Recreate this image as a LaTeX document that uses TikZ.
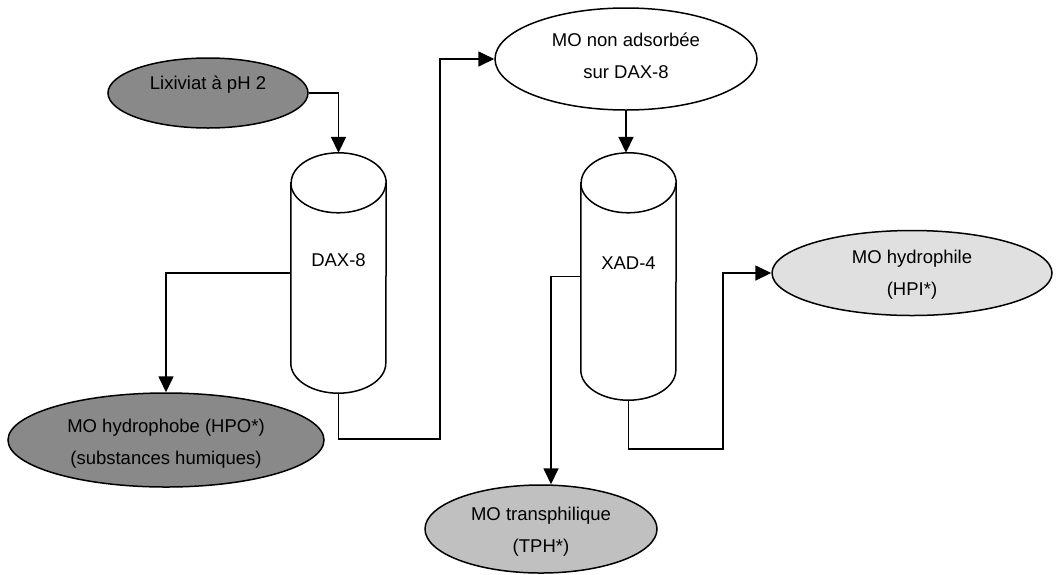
\documentclass[tikz,border=0pt]{standalone}
\usepackage{fontspec}
\setmainfont{Liberation Sans}
\usetikzlibrary{arrows.meta,shapes.geometric,calc}
\definecolor{darkfill}{HTML}{898989}
\definecolor{midfill}{HTML}{C0C0C0}
\definecolor{lightfill}{HTML}{E0E0E0}
\tikzset{
  ell/.style={ellipse,draw=black,line width=1.5pt,inner sep=0pt},
  txt/.style={inner sep=0pt,font=\fontsize{18.5}{32}\selectfont,align=center},
  colbody/.style={rectangle,draw=none,inner sep=0pt,minimum width=95pt},
  cyl/.style={draw=black,line width=1.5pt,fill=white},
  arr/.style={draw=black,line width=1.7pt,-{Triangle[length=16pt,width=15pt]}},
}
\begin{document}
\begin{tikzpicture}[x=1pt,y=-1pt]
\useasboundingbox (0,0) rectangle (1056,574);
% ellipses
\node[ell,fill=darkfill,minimum width=200pt,minimum height=70pt] (lix) at (208,93) {};
\node[ell,fill=white,minimum width=262pt,minimum height=102pt] (mo) at (626,59) {};
\node[ell,fill=darkfill,minimum width=316pt,minimum height=94pt] (hpo) at (166,440) {};
\node[ell,fill=midfill,minimum width=232pt,minimum height=88pt] (tph) at (541,529) {};
\node[ell,fill=lightfill,minimum width=280pt,minimum height=85pt] (hpi) at (912,273) {};
% texts
\node[txt] (lixt) at (208,85) {Lixiviat à pH 2};
\node[txt] (mot) at (626,56) {MO non adsorbée\\sur DAX-8};
\node[txt] (hpot) at (166,444) {MO hydrophobe (HPO*)\\(substances humiques)};
\node[txt] (tpht) at (541,532) {MO transphilique\\(TPH*)};
\node[txt] (hpit) at (912,275) {MO hydrophile\\(HPI*)};
% columns
\node[colbody,minimum height=240pt] (dax) at (338.5,273) {};
\node[colbody,minimum height=247pt] (xad) at (628.5,276.5) {};
\foreach \c in {dax,xad}{
  \path[cyl] ([yshift=-30pt]\c.north west) -- ([yshift=30pt]\c.south west)
    arc[start angle=180,end angle=360,x radius=47.5pt,y radius=30pt]
    -- ([yshift=-30pt]\c.north east)
    arc[start angle=0,end angle=180,x radius=47.5pt,y radius=30pt] -- cycle;
  \draw[line width=1.5pt] ([yshift=-30pt]\c.north west)
    arc[start angle=180,end angle=360,x radius=47.5pt,y radius=30pt];
}
\node[txt] (daxt) at (338.5,260) {DAX-8};
\node[txt] (xadt) at (628.5,263) {XAD-4};
% connectors
\coordinate (j1) at (440,439);
\coordinate (j3) at (723,449);
\draw[arr] (lix.east) -| (dax.north);
\draw[arr] (dax.west) -| (hpo.north);
\draw[arr] (dax.south) |- (j1) |- (mo.west);
\draw[arr] (mo.south) -- (mo.south |- xad.north);
\draw[arr] (xad.west) -| ([xshift=10pt]tph.north);
\draw[arr] (xad.south) |- (j3) |- (hpi.west);
\end{tikzpicture}
\end{document}
